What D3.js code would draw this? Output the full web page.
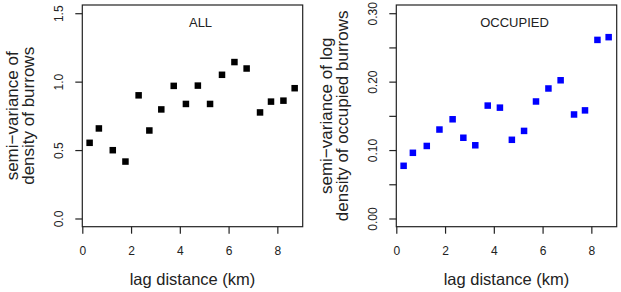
<!DOCTYPE html>
<html>
<head>
<meta charset="utf-8">
<script src="https://cdn.jsdelivr.net/npm/d3@7"></script>
<style>
  html, body { margin: 0; padding: 0; background: #fff; }
  svg { display: block; }
  text { font-family: "Liberation Sans", Arial, Helvetica, sans-serif; fill: #222; }
</style>
</head>
<body>
<svg id="chart" width="621" height="292"></svg>
<script>
// ---- data ----
const lagDistance = [0.3, 0.68, 1.25, 1.77, 2.31, 2.75, 3.24, 3.75, 4.25, 4.74, 5.24, 5.73, 6.24, 6.74, 7.29, 7.74, 8.25, 8.71];
const semivarAll = [0.553, 0.658, 0.499, 0.416, 0.900, 0.643, 0.797, 0.969, 0.837, 0.971, 0.837, 1.050, 1.143, 1.096, 0.775, 0.854, 0.861, 0.952];
const semivarOccupied = [0.077, 0.096, 0.106, 0.130, 0.145, 0.118, 0.107, 0.165, 0.162, 0.115, 0.128, 0.171, 0.190, 0.202, 0.152, 0.158, 0.261, 0.265];
const xTicks = [0, 2, 4, 6, 8];
const yTicksAll = [0, 0.5, 1.0, 1.5];
const yTickLabelsAll = ["0.0", "0.5", "1.0", "1.5"];
const yTicksOcc = [0, 0.05, 0.10, 0.15, 0.20, 0.25, 0.30];
const yTickLabelsOcc = ["0.00", "", "0.10", "", "0.20", "", "0.30"];

const panels = [
  { left: 82.3, right: 302.7, values: semivarAll, yMax: 1.5, ticks: yTicksAll, labels: yTickLabelsAll,
    color: "#000000", title: "ALL", ylab: ["semi\u2212variance of", "density of burrows"] },
  { left: 396.3, right: 616.7, values: semivarOccupied, yMax: 0.30, ticks: yTicksOcc, labels: yTickLabelsOcc,
    color: "#0000ff", title: "OCCUPIED", ylab: ["semi\u2212variance of log", "density of occupied burrows"] }
];

const svg = d3.select("#chart");
const plotTop = 5, plotBottom = 226.7;

panels.forEach(p => {
  const x = d3.scaleLinear().domain([0, 9.04]).range([p.left, p.right]);
  const ext = p.yMax * 0.04;
  const y = d3.scaleLinear().domain([-ext, p.yMax + ext]).range([plotBottom, plotTop]);

  const g = svg.append("g");

  // box
  g.append("rect")
    .attr("x", p.left).attr("y", plotTop)
    .attr("width", p.right - p.left).attr("height", plotBottom - plotTop)
    .attr("fill", "none").attr("stroke", "#222").attr("stroke-width", 1.2);

  // x axis
  const xAxis = d3.axisBottom(x).tickValues(xTicks).tickSize(7).tickPadding(10).tickFormat(d3.format("d"));
  const gx = g.append("g").attr("transform", `translate(0,${plotBottom})`).call(xAxis);
  gx.select(".domain").remove();
  gx.selectAll(".tick line").attr("stroke", "#222").attr("stroke-width", 1.2);
  gx.selectAll(".tick text").attr("font-size", 12).attr("fill", "#222").attr("y", 28).attr("dy", 0);

  // y axis
  const yAxis = d3.axisLeft(y).tickValues(p.ticks).tickSize(7)
    .tickFormat((d, i) => p.labels[i]);
  const gy = g.append("g").attr("transform", `translate(${p.left},0)`).call(yAxis);
  gy.select(".domain").remove();
  gy.selectAll(".tick line").attr("stroke", "#222").attr("stroke-width", 1.2);
  gy.selectAll(".tick text")
    .attr("font-size", 12).attr("fill", "#222")
    .attr("transform", "rotate(-90)")
    .attr("x", 0).attr("y", -19).attr("dy", 0)
    .attr("text-anchor", "middle");

  // x label
  g.append("text")
    .attr("x", (p.left + p.right) / 2).attr("y", 285)
    .attr("text-anchor", "middle").attr("font-size", 16.5)
    .text("lag distance (km)");

  // y label (two lines)
  const cy = (plotTop + plotBottom) / 2;
  const yl = g.append("text")
    .attr("transform", `translate(${p.left - 64},${cy}) rotate(-90)`)
    .attr("text-anchor", "middle").attr("font-size", 17);
  yl.append("tspan").attr("x", 0).attr("y", 0).text(p.ylab[0]);
  yl.append("tspan").attr("x", 0).attr("y", 15.5).text(p.ylab[1]);

  // panel title
  g.append("text")
    .attr("x", x(4.85)).attr("y", 26.7)
    .attr("text-anchor", "middle").attr("font-size", 13).attr("fill", "#333")
    .text(p.title);

  // points
  const s = 6.5;
  g.selectAll("rect.pt").data(p.values).enter().append("rect")
    .attr("class", "pt")
    .attr("x", (d, i) => x(lagDistance[i]) - s / 2)
    .attr("y", d => y(d) - s / 2)
    .attr("width", s).attr("height", s)
    .attr("fill", p.color);
});
</script>
</body>
</html>
